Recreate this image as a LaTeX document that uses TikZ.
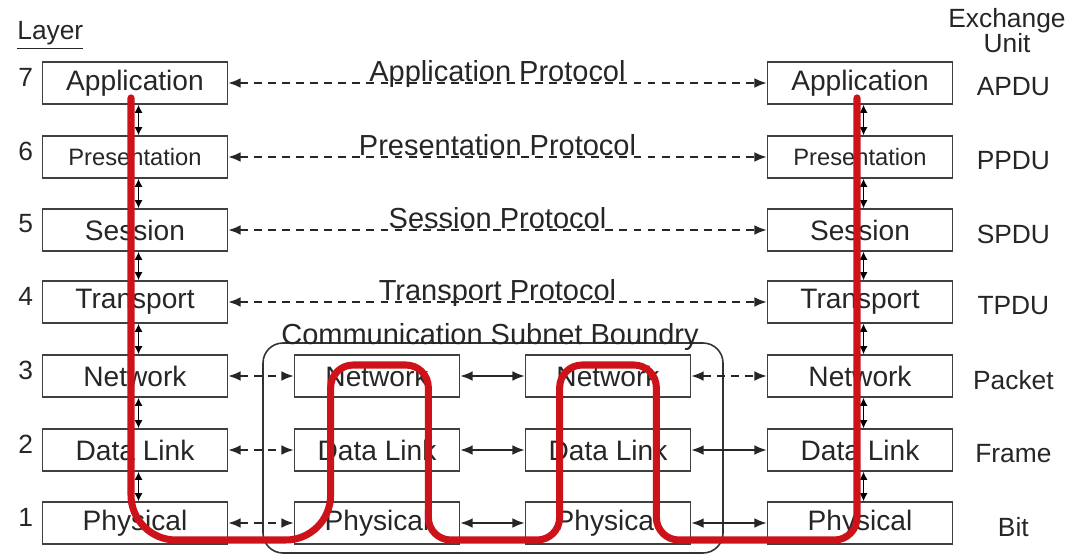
\documentclass[tikz,border=0pt]{standalone}
\usepackage{fontspec}
\setmainfont{Liberation Sans}
\usetikzlibrary{calc,arrows.meta}

\definecolor{tracered}{RGB}{205,18,26}

\begin{document}
\begin{tikzpicture}[x=0.02cm,y=-0.02cm,>={Latex[length=7pt,width=5.5pt]},
    layer/.style={draw=black!75,line width=1pt,text=black!85,minimum width=3.7cm,minimum height=0.84cm,inner sep=0pt,font=\fontsize{16}{18}\selectfont},
    relay/.style={layer,minimum width=3.3cm},
    small/.style={font=\fontsize{13.5}{15}\selectfont},
    peer/.style={<->,dash pattern=on 4.5pt off 3.5pt,line width=0.8pt,black!85},
    hop/.style={<->,line width=0.8pt,black!85},
    updown/.style={<->,line width=0.6pt,>={Latex[length=4.5pt,width=4.5pt]}},
    proto/.style={midway,anchor=base,inner sep=0pt,yshift=1pt,text=black!85,font=\fontsize{16.5}{18}\selectfont},
    side/.style={text=black!85,font=\fontsize{15}{17}\selectfont},
    trace/.style={line width=4pt,draw=tracered,line cap=round}]

  \useasboundingbox (0,0) rectangle (1071,554);

  % headings
  \node[side,anchor=base west,inner sep=0pt] (layerhd) at (17,40) {\underline{Layer}};
  \node[side,anchor=base,inner sep=0pt] (exchd) at (1007,28) {Exchange};
  \node[side,anchor=base,inner sep=0pt] (unithd) at (1007,53) {Unit};

  % left host
  \node[layer] (appL) at (135,83) {Application};
  \node[layer,small] (preL) at (135,157) {Presentation};
  \node[layer] (sesL) at (135,230) {Session};
  \node[layer] (traL) at (135,302) {Transport};
  \node[layer] (netL) at (135,376) {Network};
  \node[layer] (dllL) at (135,450) {Data Link};
  \node[layer] (phyL) at (135,523) {Physical};

  % right host
  \node[layer] (appR) at (860,83) {Application};
  \node[layer,small] (preR) at (860,157) {Presentation};
  \node[layer] (sesR) at (860,230) {Session};
  \node[layer] (traR) at (860,302) {Transport};
  \node[layer] (netR) at (860,376) {Network};
  \node[layer] (dllR) at (860,450) {Data Link};
  \node[layer] (phyR) at (860,523) {Physical};

  % the two routers inside the subnet
  \draw[black!80,line width=0.9pt,rounded corners=0.4cm] (263,343) rectangle (723,553);
  \node[side,anchor=base,inner sep=0pt,font=\fontsize{16.5}{18}\selectfont] (subnet) at (490,344) {Communication Subnet Boundry};
  \node[relay] (netA) at (377,376) {Network};
  \node[relay] (dllA) at (377,450) {Data Link};
  \node[relay] (phyA) at (377,523) {Physical};
  \node[relay] (netB) at (608,376) {Network};
  \node[relay] (dllB) at (608,450) {Data Link};
  \node[relay] (phyB) at (608,523) {Physical};

  % layer numbers and units
  \foreach \n/\r in {7/app,6/pre,5/ses,4/tra,3/net,2/dll,1/phy}
    \node[side,inner sep=0pt] (num\n) at ($(\r L.west)+(-16,-6)$) {\n};
  \foreach \u/\r in {APDU/app,PPDU/pre,SPDU/ses,TPDU/tra,Packet/net,Frame/dll,Bit/phy}
    \node[side,inner sep=0pt] (unit\r) at ($(\r R.east)+(60,4)$) {\u};

  % stack interfaces
  \foreach \a/\b in {app/pre,pre/ses,ses/tra,tra/net,net/dll,dll/phy} {
    \draw[updown] ([xshift=2pt]\a L.south) -- ([xshift=2pt]\b L.north);
    \draw[updown] ([xshift=2pt]\a R.south) -- ([xshift=2pt]\b R.north);
  }

  % peer protocols
  \draw[peer] (appL) -- node[proto] {Application Protocol} (appR);
  \draw[peer] (preL) -- node[proto] {Presentation Protocol} (preR);
  \draw[peer] (sesL) -- node[proto] {Session Protocol} (sesR);
  \draw[peer] (traL) -- node[proto] {Transport Protocol} (traR);
  \foreach \r in {net,dll,phy} {
    \draw[peer] (\r L) -- (\r A);
    \draw[hop] (\r A) -- (\r B);
  }
  \draw[peer] (netB) -- (netR);
  \draw[hop] (dllB) -- (dllR);
  \draw[hop] (phyB) -- (phyR);

  % path of the data
  \coordinate (t0) at ($(appL.south)+(-4,-7)$);
  \coordinate (t1) at ($(appR.south)+(-3,-7)$);
  \coordinate (low) at (0,540);
  \coordinate (high) at (0,365);
  \coordinate (upA) at ($(netA.west)+(37,0)$);
  \coordinate (dnA) at ($(netA.east)+(-32,0)$);
  \coordinate (upB) at ($(netB.west)+(35,0)$);
  \coordinate (dnB) at ($(netB.east)+(-35,0)$);
  \draw[trace] (t0) [rounded corners=0.9cm] -- (t0 |- low) -- (upA |- low) [rounded corners=0.45cm]
    -- (upA |- high) -- (dnA |- high) -- (dnA |- low) -- (upB |- low) -- (upB |- high)
    -- (dnB |- high) -- (dnB |- low) -- (t1 |- low) [rounded corners=0.8cm] -- (t1);
\end{tikzpicture}
\end{document}
